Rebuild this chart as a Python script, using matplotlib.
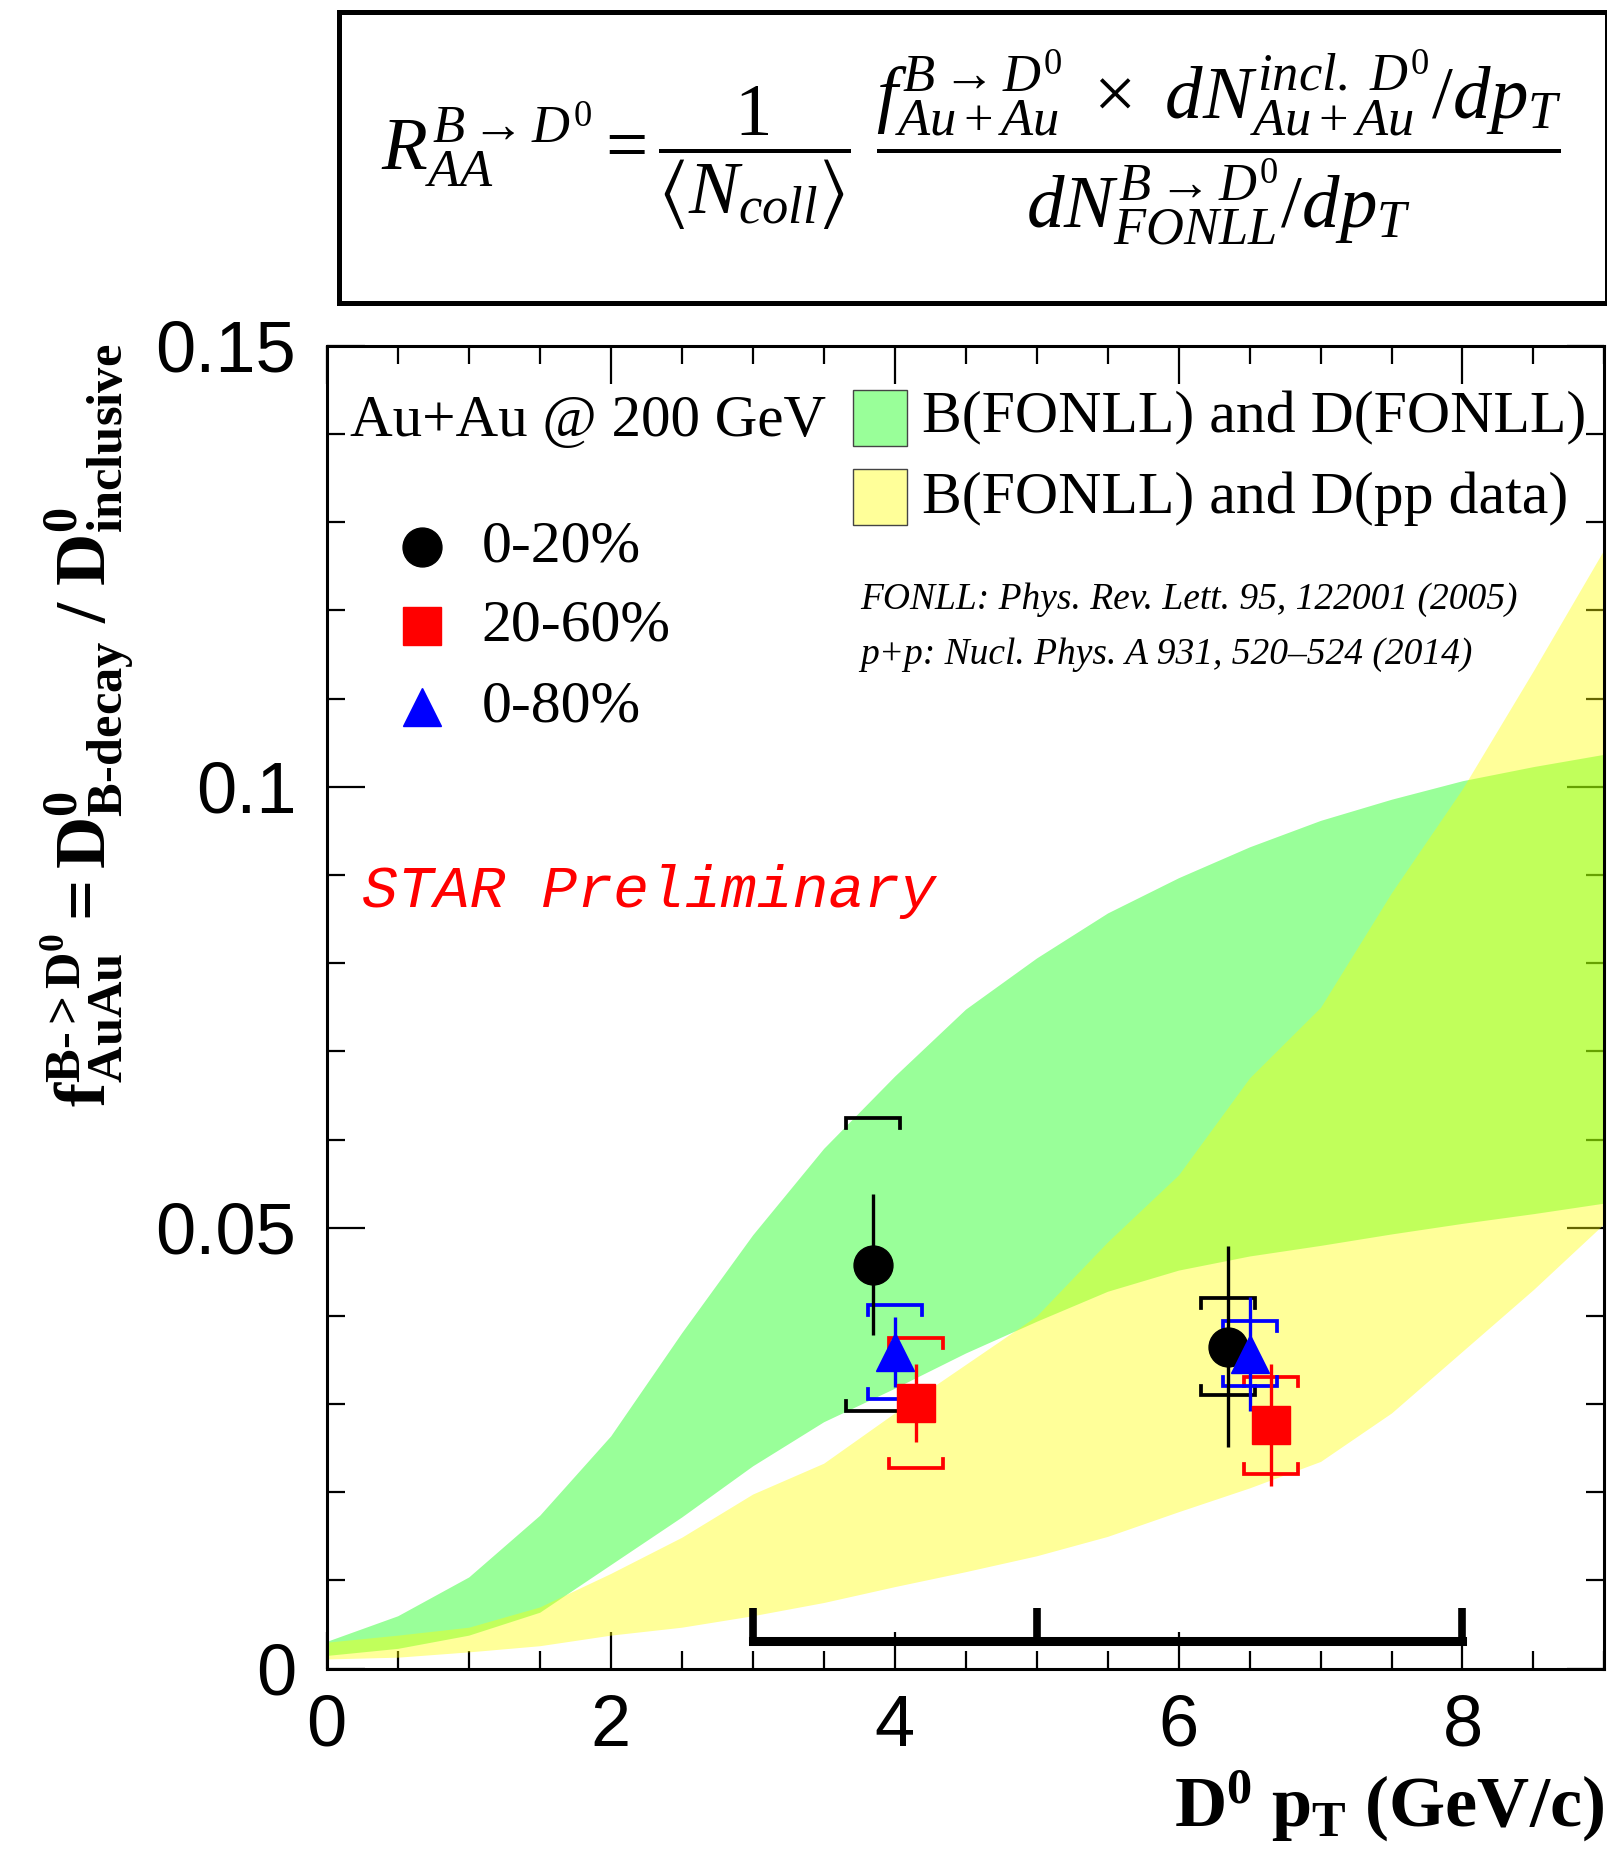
import numpy as np
import matplotlib.pyplot as plt
from matplotlib.patches import Rectangle
from matplotlib.ticker import MultipleLocator

plt.rcParams['mathtext.fontset'] = 'custom'
plt.rcParams['mathtext.rm'] = 'Liberation Serif'
plt.rcParams['mathtext.it'] = 'Liberation Serif:italic'
plt.rcParams['mathtext.bf'] = 'Liberation Serif:bold'
plt.rcParams['mathtext.fallback'] = 'stix'
plt.rcParams['font.family'] = 'Liberation Serif'

# FONLL bands
pt_grid = [0.0, 0.5, 1.0, 1.5, 2.0, 2.5, 3.0, 3.5, 4.0, 4.5,
           5.0, 5.5, 6.0, 6.5, 7.0, 7.5, 8.0, 8.5, 9.0]
fonll_hi = [0.0031, 0.0060, 0.0104, 0.0174, 0.0264, 0.0381, 0.0492, 0.0590, 0.0672, 0.0748,
            0.0806, 0.0857, 0.0897, 0.0932, 0.0962, 0.0986, 0.1007, 0.1023, 0.1037]
fonll_lo = [0.0015, 0.0023, 0.0038, 0.0064, 0.0118, 0.0172, 0.0230, 0.0280, 0.0318, 0.0358,
            0.0394, 0.0428, 0.0452, 0.0468, 0.0480, 0.0493, 0.0505, 0.0516, 0.0528]
ppdata_hi = [0.0030, 0.0038, 0.0047, 0.0070, 0.0108, 0.0149, 0.0198, 0.0233, 0.0290, 0.0345,
             0.0400, 0.0484, 0.0560, 0.0670, 0.0750, 0.0880, 0.0998, 0.1132, 0.1270]
ppdata_lo = [0.0011, 0.0013, 0.0019, 0.0026, 0.0038, 0.0047, 0.0060, 0.0075, 0.0093, 0.0110,
             0.0128, 0.0150, 0.0178, 0.0205, 0.0235, 0.0290, 0.0360, 0.0430, 0.0505]

# STAR points: 0-20%, 20-60%, 0-80%
pt_0020 = [3.85, 6.35]
f_0020 = [0.0458, 0.0365]
stat_0020 = [0.0080, 0.0114]
sys_0020 = [0.0166, 0.0055]

pt_2060 = [4.15, 6.65]
f_2060 = [0.0301, 0.0276]
stat_2060 = [0.0044, 0.0069]
sys_2060 = [0.0074, 0.0055]

pt_0080 = [4.00, 6.50]
f_0080 = [0.0359, 0.0357]
stat_0080 = [0.0040, 0.0065]
sys_0080 = [0.0053, 0.0037]

bin_edges = [3, 5, 8]

fig = plt.figure(figsize=(16.08, 18.64), dpi=100)
ax = fig.add_axes([0.2032, 0.1048, 0.7946, 0.7096])

ax.fill_between(pt_grid, fonll_lo, fonll_hi, color=(0, 1, 0), alpha=0.4, lw=0, zorder=1)
ax.fill_between(pt_grid, ppdata_lo, ppdata_hi, color=(1, 1, 0), alpha=0.4, lw=0, zorder=1)


def draw_points(x, y, stat, sys, color, marker):
    w = 0.19
    h = 0.0011
    for xi, yi, si in zip(x, y, sys):
        top = yi + si
        bot = yi - si
        ax.plot([xi - w, xi - w, xi + w, xi + w], [top - h, top, top, top - h],
                color=color, lw=2.7, solid_joinstyle='miter', zorder=3)
        ax.plot([xi - w, xi - w, xi + w, xi + w], [bot + h, bot, bot, bot + h],
                color=color, lw=2.7, solid_joinstyle='miter', zorder=3)
    ax.errorbar(x, y, yerr=stat, fmt=marker, color=color, ms=28, elinewidth=2.4,
                capsize=0, zorder=4)


draw_points(pt_0020, f_0020, stat_0020, sys_0020, 'black', 'o')
draw_points(pt_2060, f_2060, stat_2060, sys_2060, 'red', 's')
draw_points(pt_0080, f_0080, stat_0080, sys_0080, 'blue', '^')

# pT bins bar at the bottom
ax.plot([bin_edges[0], bin_edges[-1]], [0.0031, 0.0031], color='black', lw=6.5,
        solid_capstyle='projecting', zorder=3)
for e in bin_edges:
    ax.plot([e, e], [0.0031, 0.0069], color='black', lw=5.5, solid_capstyle='butt', zorder=3)

ax.set_xlim(0, 9)
ax.set_ylim(0, 0.15)
ax.set_xticks([0, 2, 4, 6, 8])
ax.set_xticklabels(['0', '2', '4', '6', '8'])
ax.set_yticks([0, 0.05, 0.1, 0.15])
ax.set_yticklabels(['0', '0.05', '0.1', '0.15'])
ax.xaxis.set_minor_locator(MultipleLocator(0.5))
ax.yaxis.set_minor_locator(MultipleLocator(0.01))
ax.tick_params(which='both', direction='in', top=True, right=True, width=1.6,
               labelfontfamily='Liberation Sans', labelsize=52)
ax.tick_params(which='major', length=27)
ax.tick_params(which='minor', length=13)
ax.tick_params(axis='y', pad=22)
ax.tick_params(axis='x', pad=18)
ax.set_axisbelow(True)
for s in ax.spines.values():
    s.set_linewidth(2.2)

# legend-like texts
ax.text(0.167, 0.1414, 'Au+Au @ 200 GeV', fontsize=42.5, va='center')
ax.add_patch(Rectangle((3.71, 0.1387), 0.38, 0.0063, fc=(0, 1, 0, 0.4), ec='#444444', lw=1))
ax.add_patch(Rectangle((3.71, 0.1297), 0.38, 0.0063, fc=(1, 1, 0, 0.4), ec='#444444', lw=1))
ax.text(4.19, 0.1418, 'B(FONLL) and D(FONLL)', fontsize=43, va='center')
ax.text(4.19, 0.1327, 'B(FONLL) and D(pp data)', fontsize=43, va='center')

ax.plot(0.67, 0.1272, 'o', color='black', ms=28)
ax.plot(0.67, 0.1182, 's', color='red', ms=28)
ax.plot(0.67, 0.1090, '^', color='blue', ms=28)
ax.text(1.09, 0.1272, '0-20%', fontsize=43, va='center')
ax.text(1.09, 0.1182, '20-60%', fontsize=43, va='center')
ax.text(1.09, 0.1090, '0-80%', fontsize=43, va='center')

ax.text(3.76, 0.1212, 'FONLL: Phys. Rev. Lett. 95, 122001 (2005)', fontsize=27,
        style='italic', va='center')
ax.text(3.76, 0.1150, 'p+p: Nucl. Phys. A 931, 520\u2013524 (2014)', fontsize=27,
        style='italic', va='center')

ax.text(0.25, 0.0881, 'STAR Preliminary', color='red', family='Liberation Mono',
        style='italic', fontsize=43, va='center')

# axis titles
fig.text(0.055, 0.611,
         r'$\mathbf{f^{B\text{-}>D^0}_{AuAu} = D^0_{B\text{-}decay}\ /\ D^0_{inclusive}}$',
         rotation=90, fontsize=52, ha='center', va='center')
fig.text(0.9978, 0.02, r'$\mathbf{D^0\ p_T\ (GeV/c)}$', ha='right', va='baseline',
         fontsize=52)

# formula box
fig.add_artist(Rectangle((0.2108, 0.8374), 0.7886, 0.1562, transform=fig.transFigure,
                         fill=False, lw=3.6, ec='black'))
formula = (r'$R^{B\rightarrow D^0}_{AA} = \dfrac{1}{\langle N_{coll}\rangle}\ '
           r'\dfrac{f^{B\rightarrow D^0}_{Au+Au}\ \times\ dN^{incl.\ D^0}_{Au+Au}/dp_T}'
           r'{dN^{B\rightarrow D^0}_{FONLL}/dp_T}$')
fig.text(0.604, 0.921, formula, fontsize=54, ha='center', va='center')

fig.savefig('out.png', dpi=100)
